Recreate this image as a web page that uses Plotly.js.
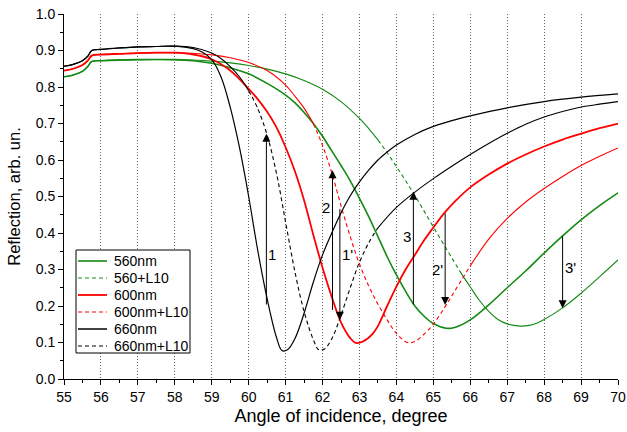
<!DOCTYPE html>
<html>
<head>
<meta charset="utf-8">
<script src="https://cdn.plot.ly/plotly-3.0.1.min.js"></script>
<style>html,body{margin:0;padding:0;background:#fff;}#chart{width:627px;height:432px;}</style>
</head>
<body>
<div id="chart"></div>
<script>
// ---- data ----
const x560 = [55, 55.25, 55.5, 55.65, 55.75, 56, 57, 58, 58.5, 59, 59.5, 60, 60.5, 61, 61.25, 61.5, 61.75, 62, 62.25, 62.5, 62.75, 63, 63.25, 63.5, 63.75, 64, 64.25, 64.5, 64.75, 65, 65.35, 65.6, 66, 66.5, 67, 67.5, 68, 68.5, 69, 69.5, 70];
const r560 = [0.828, 0.833, 0.843, 0.857, 0.870, 0.872, 0.875, 0.875, 0.872, 0.865, 0.853, 0.836, 0.810, 0.778, 0.757, 0.730, 0.700, 0.665, 0.625, 0.585, 0.543, 0.495, 0.445, 0.390, 0.335, 0.285, 0.240, 0.200, 0.172, 0.152, 0.139, 0.142, 0.162, 0.203, 0.250, 0.296, 0.345, 0.392, 0.436, 0.475, 0.510];

const x560L = [55, 55.25, 55.5, 55.65, 55.75, 56, 57, 58, 58.5, 59, 59.5, 60, 60.5, 61, 61.5, 62, 62.5, 63, 63.25, 63.5, 63.75, 64, 64.25, 64.5, 64.75, 65, 65.25, 65.5, 65.75, 66, 66.25, 66.5, 66.75, 67, 67.35, 67.6, 67.8, 68, 68.5, 69, 69.5, 70];
const r560L = [0.828, 0.833, 0.843, 0.857, 0.870, 0.872, 0.875, 0.875, 0.874, 0.871, 0.866, 0.859, 0.849, 0.836, 0.818, 0.794, 0.760, 0.714, 0.686, 0.655, 0.620, 0.582, 0.543, 0.503, 0.460, 0.417, 0.374, 0.332, 0.290, 0.252, 0.215, 0.185, 0.163, 0.151, 0.145, 0.147, 0.153, 0.163, 0.195, 0.235, 0.280, 0.326];

const x600 = [55, 55.25, 55.5, 55.65, 55.75, 56, 56.5, 57, 57.5, 58, 58.5, 59, 59.5, 60, 60.25, 60.5, 60.75, 61, 61.25, 61.5, 61.75, 62, 62.25, 62.5, 62.75, 62.9, 63.1, 63.35, 63.5, 63.75, 64, 64.25, 64.5, 64.75, 65, 65.3, 65.6, 66, 66.5, 67, 67.5, 68, 68.5, 69, 69.5, 70];
const r600 = [0.845, 0.850, 0.860, 0.873, 0.886, 0.889, 0.891, 0.893, 0.894, 0.894, 0.889, 0.876, 0.845, 0.795, 0.766, 0.732, 0.690, 0.635, 0.570, 0.490, 0.395, 0.305, 0.225, 0.155, 0.112, 0.099, 0.103, 0.123, 0.145, 0.200, 0.253, 0.300, 0.340, 0.380, 0.415, 0.455, 0.488, 0.525, 0.560, 0.590, 0.615, 0.637, 0.656, 0.672, 0.687, 0.700];

const x600L = [55, 55.25, 55.5, 55.65, 55.75, 56, 56.5, 57, 57.5, 58, 58.5, 59, 59.5, 60, 60.5, 61, 61.25, 61.5, 61.75, 62, 62.25, 62.5, 62.75, 63, 63.25, 63.5, 63.75, 64, 64.3, 64.5, 64.75, 65, 65.3, 65.5, 66, 66.5, 67, 67.5, 68, 68.5, 69, 69.5, 70];
const r600L = [0.845, 0.850, 0.860, 0.873, 0.886, 0.889, 0.891, 0.893, 0.894, 0.894, 0.892, 0.888, 0.880, 0.867, 0.845, 0.805, 0.775, 0.742, 0.700, 0.640, 0.565, 0.475, 0.390, 0.315, 0.255, 0.205, 0.162, 0.125, 0.100, 0.103, 0.123, 0.150, 0.195, 0.228, 0.310, 0.383, 0.440, 0.485, 0.522, 0.555, 0.585, 0.610, 0.633];

const x660 = [55, 55.25, 55.5, 55.65, 55.75, 56, 56.5, 57, 57.5, 58, 58.5, 58.75, 59, 59.25, 59.5, 59.75, 60, 60.25, 60.5, 60.75, 60.9, 61.05, 61.25, 61.5, 61.75, 62, 62.25, 62.5, 62.75, 63, 63.25, 63.5, 63.75, 64, 64.5, 65, 65.5, 66, 67, 68, 69, 70];
const r660 = [0.857, 0.862, 0.872, 0.885, 0.900, 0.903, 0.907, 0.910, 0.911, 0.912, 0.905, 0.895, 0.875, 0.828, 0.745, 0.635, 0.500, 0.350, 0.220, 0.115, 0.078, 0.080, 0.110, 0.180, 0.265, 0.340, 0.400, 0.455, 0.502, 0.540, 0.572, 0.600, 0.622, 0.641, 0.670, 0.692, 0.708, 0.721, 0.743, 0.760, 0.772, 0.781];

const x660L = [55, 55.25, 55.5, 55.65, 55.75, 56, 56.5, 57, 57.5, 58, 58.5, 59, 59.25, 59.5, 59.75, 60, 60.25, 60.5, 60.75, 61, 61.25, 61.5, 61.75, 61.9, 62.05, 62.25, 62.5, 62.75, 63, 63.25, 63.5, 64, 64.5, 65, 65.5, 66, 66.5, 67, 67.5, 68, 68.5, 69, 69.5, 70];
const r660L = [0.857, 0.862, 0.872, 0.885, 0.900, 0.903, 0.907, 0.910, 0.911, 0.912, 0.908, 0.893, 0.878, 0.856, 0.828, 0.790, 0.740, 0.668, 0.565, 0.430, 0.295, 0.185, 0.108, 0.080, 0.082, 0.110, 0.175, 0.250, 0.320, 0.373, 0.414, 0.470, 0.512, 0.549, 0.583, 0.615, 0.645, 0.673, 0.698, 0.718, 0.733, 0.745, 0.753, 0.760];

// arrows: position, tail value, head value, label, label position
const arrowX    = [60.48, 62.47, 62.27, 65.32, 64.46, 68.5];
const arrowFrom = [0.20, 0.47, 0.185, 0.458, 0.20, 0.395];
const arrowTo   = [0.672, 0.162, 0.572, 0.203, 0.513, 0.194];
const arrowText = ["1", "1'", "2", "2'", "3", "3'"];
const labelX    = [60.63, 62.68, 62.1, 65.1, 64.28, 68.72];
const labelY    = [0.342, 0.342, 0.47, 0.30, 0.39, 0.305];

const xTicks = [55, 56, 57, 58, 59, 60, 61, 62, 63, 64, 65, 66, 67, 68, 69, 70];
const yTicks = [0.0, 0.1, 0.2, 0.3, 0.4, 0.5, 0.6, 0.7, 0.8, 0.9, 1.0];

const seriesNames  = ['560nm', '560+L10', '600nm', '600nm+L10', '660nm', '660nm+L10'];
// dashed-looking ranges of the +L10 curves
const dashRange = {"560": [63.5, 65.75], "600": [61.75, 66], "660": [60, 63.5]};

// ---- build ----
const GREEN = '#138a13', RED = '#ff0000', BLACK = '#000000';
const DASH = '4px,3px';
const SMOOTH = 1.0;
function seg(xs, ys, lo, hi) {
  const X = [], Y = [];
  xs.forEach((v, i) => { if (v >= lo && v <= hi) { X.push(v); Y.push(ys[i]); } });
  return {x: X, y: Y};
}
const traces = [];
const legendItems = [];
function addSolid(xs, ys, name, color, w) {
  traces.push({x: xs, y: ys, name: name, type: 'scatter', mode: 'lines', showlegend: false,
    line: {color: color, width: w, shape: 'spline', smoothing: SMOOTH}});
  legendItems.push({name: name, color: color, width: Math.max(w, 1.5), dash: 'solid'});
}
function addL10(xs, ys, name, color, w, key) {
  const [lo, hi] = dashRange[key];
  const mid = seg(xs, ys, lo, hi);
  traces.push({x: mid.x, y: mid.y, name: name, type: 'scatter', mode: 'lines', showlegend: false,
    line: {color: color, width: w, dash: DASH, shape: 'spline', smoothing: SMOOTH}});
  const a = seg(xs, ys, 55, lo), b = seg(xs, ys, hi, 70);
  [a, b].forEach(s => traces.push({x: s.x, y: s.y, name: name, showlegend: false, type: 'scatter', mode: 'lines',
    line: {color: color, width: w, shape: 'spline', smoothing: SMOOTH}}));
  legendItems.push({name: name, color: color, width: 1.1, dash: DASH});
}
addSolid(x560, r560, seriesNames[0], GREEN, 1.6);
addL10(x560L, r560L, seriesNames[1], GREEN, 1.1, '560');
addSolid(x600, r600, seriesNames[2], RED, 1.8);
addL10(x600L, r600L, seriesNames[3], RED, 1.1, '600');
addSolid(x660, r660, seriesNames[4], BLACK, 1.2);
addL10(x660L, r660L, seriesNames[5], BLACK, 1.1, '660');

const FONT = '"Liberation Sans", Arial, sans-serif';
const annotations = [];
const shapes = [];
arrowX.forEach((x, i) => {
  annotations.push({x: x, y: arrowTo[i], ax: x, ay: arrowFrom[i], axref: 'x', ayref: 'y',
    xref: 'x', yref: 'y', text: '', showarrow: true, arrowhead: 2, arrowsize: 1.6,
    arrowwidth: 1, arrowcolor: '#000'});
  annotations.push({x: labelX[i], y: labelY[i], xref: 'x', yref: 'y', text: arrowText[i],
    showarrow: false, font: {size: 15, color: '#000'}});
});

// legend box (plot area: 554 x 365 px)
const PW = 554, PH = 365;
const px = v => (v - 64) / PW;          // pixel -> paper x
const py = v => (379 - v) / PH;         // pixel -> paper y
shapes.push({type: 'rect', xref: 'paper', yref: 'paper', x0: px(76), x1: px(190), y0: py(353), y1: py(250),
  line: {color: '#000', width: 1}, fillcolor: '#fff', layer: 'above'});
legendItems.forEach((it, i) => {
  const yc = 261 + i * 17;
  shapes.push({type: 'line', xref: 'paper', yref: 'paper', x0: px(78), x1: px(107), y0: py(yc), y1: py(yc),
    line: {color: it.color, width: it.width, dash: it.dash}, layer: 'above'});
  annotations.push({xref: 'paper', yref: 'paper', x: px(112), y: py(yc), xanchor: 'left', yanchor: 'middle',
    text: it.name, showarrow: false, font: {family: FONT, size: 14, color: '#000'}});
});

const layout = {
  width: 627, height: 432,
  margin: {l: 64, r: 9, t: 14, b: 53},
  paper_bgcolor: '#fff', plot_bgcolor: '#fff',
  font: {family: FONT, size: 14, color: '#000'},
  showlegend: false,
  xaxis: {range: [55, 70], tickvals: xTicks, ticktext: xTicks.map(String),
    showline: true, linecolor: '#000', linewidth: 1, ticks: 'outside', ticklen: 5,
    tickcolor: '#000', zeroline: false, showgrid: true, gridcolor: '#666',
    griddash: '1px,2px', gridwidth: 1, tickfont: {size: 14},
    minor: {dtick: 0.5, tick0: 55, ticks: 'outside', ticklen: 3, tickcolor: '#000', showgrid: false},
    title: {text: 'Angle of incidence, degree', font: {size: 18}, standoff: 5}},
  yaxis: {range: [0, 1.0], tickvals: yTicks, ticktext: yTicks.map(v => v.toFixed(1)),
    showline: true, linecolor: '#000', linewidth: 1, ticks: 'outside', ticklen: 5,
    tickcolor: '#000', zeroline: false, showgrid: false, tickfont: {size: 14},
    minor: {dtick: 0.05, tick0: 0, ticks: 'outside', ticklen: 3, tickcolor: '#000', showgrid: false},
    title: {text: 'Reflection, arb. un.', font: {size: 16.5}, standoff: 10}},
  annotations: annotations,
  shapes: shapes
};
Plotly.newPlot('chart', traces, layout, {displayModeBar: false, staticPlot: true});
</script>
</body>
</html>
